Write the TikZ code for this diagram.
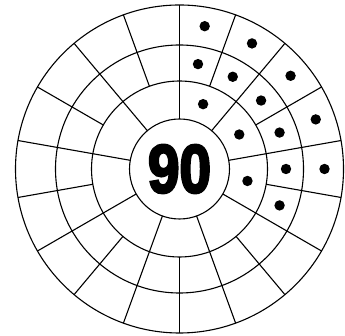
\documentclass[tikz,border=0pt]{standalone}
\usepackage{fontspec}
\newfontfamily\numfont[FakeBold=4]{Liberation Sans}
\tikzset{
  ringline/.style={line width=1.1pt, draw=black},
  spoke/.style={line width=1.1pt, draw=black},
  dotmark/.style={fill=black, draw=none},
  hubnode/.style={circle, draw=black, line width=1.1pt, minimum size=100pt, inner sep=0pt,
    font=\numfont\bfseries\fontsize{63}{63}\selectfont}
}
\begin{document}
\begin{tikzpicture}[x=1pt,y=1pt]
\useasboundingbox (0,0) rectangle (345,336);
\coordinate (C) at (179.5,167);
% rings
\draw[ringline] (C) circle (88);
\draw[ringline] (C) circle (124);
\draw[ringline] (C) circle (164);
% spokes through all three rings
\foreach \k in {0,...,8}{
  \pgfmathsetmacro{\a}{90-40*\k}
  \draw[spoke, shift={(C)}] (\a:50) -- (\a:164);
}
% spokes through outer two rings
\foreach \k in {0,...,8}{
  \pgfmathsetmacro{\a}{70-40*\k}
  \draw[spoke, shift={(C)}] (\a:88) -- (\a:164);
}
% hub
\node[hubnode] (hub) at (C) {\scalebox{0.9}[1.08]{90}};
% dots
\foreach \a in {70,30,-10}{ \fill[dotmark, shift={(C)}] (\a:69) circle (5.2); }
\foreach \a in {80,60,40,20,0,-20}{ \fill[dotmark, shift={(C)}] (\a:106.5) circle (5.2); }
\foreach \a in {80,60,40,20,0}{ \fill[dotmark, shift={(C)}] (\a:145) circle (5.2); }
\end{tikzpicture}
\end{document}
